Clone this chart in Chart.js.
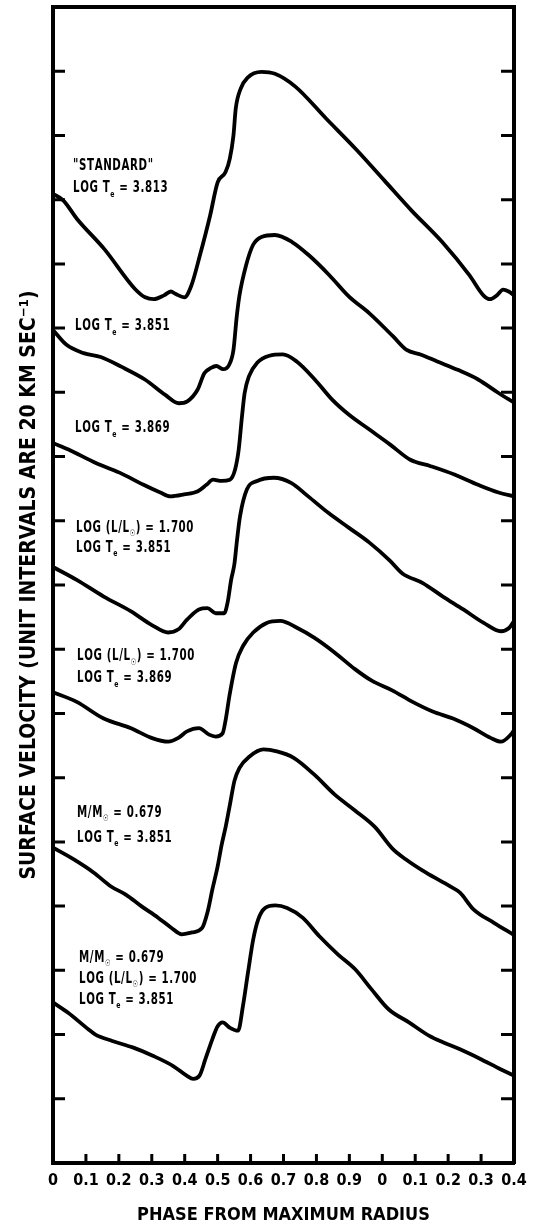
<!DOCTYPE html>
<html>
<head>
<meta charset="utf-8">
<script src="https://cdn.jsdelivr.net/npm/chart.js@4.4.1/dist/chart.umd.min.js"></script>
<style>
  html, body { margin: 0; padding: 0; background: #fff; }
  #wrap { width: 535px; height: 1231px; position: relative; }
</style>
</head>
<body>
<div id="wrap"><canvas id="velocityChart"></canvas></div>
<script>
// Surface velocity curves, phase 0 - 1.4 (one cycle plus 0.4 repeated)
// velocities in unit intervals (1 unit = 20 km/sec), curves offset vertically

const phaseTicks = [0, 0.1, 0.2, 0.3, 0.4, 0.5, 0.6, 0.7, 0.8, 0.9, 1.0, 1.1, 1.2, 1.3, 1.4];
const phaseLabels = ['0', '0.1', '0.2', '0.3', '0.4', '0.5', '0.6', '0.7', '0.8', '0.9', '0', '0.1', '0.2', '0.3', '0.4'];
const velocityTicks = [1, 2, 3, 4, 5, 6, 7, 8, 9, 10, 11, 12, 13, 14, 15, 16, 17];

// "standard", log Te = 3.813
const stdPhase = [0, 0.031, 0.073, 0.156, 0.249, 0.28, 0.306, 0.337, 0.358, 0.373, 0.399, 0.42, 0.446, 0.477, 0.5, 0.524, 0.537, 0.548, 0.555, 0.57, 0.591, 0.633, 0.674, 0.736, 0.83, 0.923, 1.006, 1.089, 1.182, 1.265, 1.307, 1.327, 1.348, 1.367, 1.384, 1.4];
const stdVel = [15.09, 14.99, 14.70, 14.23, 13.61, 13.48, 13.45, 13.51, 13.57, 13.53, 13.48, 13.66, 14.13, 14.75, 15.27, 15.43, 15.64, 16.0, 16.42, 16.73, 16.9, 16.99, 16.96, 16.76, 16.26, 15.77, 15.3, 14.83, 14.34, 13.82, 13.51, 13.45, 13.51, 13.6, 13.57, 13.51];

// log Te = 3.851
const te3851Phase = [0, 0.041, 0.093, 0.145, 0.207, 0.279, 0.341, 0.382, 0.408, 0.439, 0.46, 0.48, 0.496, 0.517, 0.535, 0.548, 0.558, 0.566, 0.586, 0.607, 0.633, 0.674, 0.726, 0.778, 0.84, 0.899, 0.961, 1.033, 1.074, 1.116, 1.167, 1.229, 1.291, 1.353, 1.4];
const te3851Vel = [12.97, 12.74, 12.61, 12.55, 12.4, 12.2, 11.96, 11.83, 11.86, 12.04, 12.3, 12.38, 12.41, 12.36, 12.43, 12.66, 13.18, 13.5, 13.97, 14.29, 14.42, 14.45, 14.34, 14.13, 13.82, 13.49, 13.23, 12.87, 12.66, 12.59, 12.48, 12.35, 12.2, 11.99, 11.84];

// log Te = 3.869
const te3869Phase = [0, 0.047, 0.13, 0.202, 0.275, 0.326, 0.357, 0.398, 0.44, 0.466, 0.486, 0.512, 0.537, 0.553, 0.564, 0.574, 0.582, 0.595, 0.62, 0.657, 0.698, 0.74, 0.795, 0.847, 0.899, 0.961, 1.023, 1.085, 1.147, 1.219, 1.291, 1.353, 1.4];
const te3869Vel = [11.21, 11.11, 10.9, 10.75, 10.56, 10.44, 10.38, 10.41, 10.46, 10.56, 10.64, 10.62, 10.64, 10.8, 11.11, 11.63, 11.99, 12.25, 12.46, 12.57, 12.59, 12.48, 12.2, 11.89, 11.65, 11.42, 11.19, 10.95, 10.85, 10.72, 10.56, 10.44, 10.38];

// log L/Lsun = 1.700, log Te = 3.851
const lum3851Phase = [0, 0.072, 0.154, 0.237, 0.299, 0.35, 0.381, 0.407, 0.443, 0.469, 0.494, 0.52, 0.53, 0.541, 0.551, 0.558, 0.568, 0.589, 0.62, 0.671, 0.723, 0.775, 0.837, 0.899, 0.961, 1.023, 1.061, 1.123, 1.184, 1.246, 1.308, 1.36, 1.385, 1.4];
const lum3851Vel = [9.28, 9.08, 8.82, 8.59, 8.38, 8.26, 8.31, 8.46, 8.62, 8.64, 8.56, 8.56, 8.72, 9.08, 9.33, 9.66, 10.07, 10.49, 10.62, 10.67, 10.59, 10.38, 10.12, 9.89, 9.66, 9.38, 9.18, 9.03, 8.82, 8.62, 8.41, 8.28, 8.33, 8.44];

// log L/Lsun = 1.700, log Te = 3.869
const lum3869Phase = [0, 0.072, 0.154, 0.237, 0.299, 0.35, 0.381, 0.407, 0.443, 0.474, 0.494, 0.515, 0.525, 0.536, 0.556, 0.577, 0.608, 0.649, 0.69, 0.742, 0.793, 0.855, 0.917, 0.968, 1.03, 1.092, 1.153, 1.215, 1.277, 1.329, 1.36, 1.39, 1.4];
const lum3869Vel = [7.33, 7.18, 6.92, 6.77, 6.62, 6.56, 6.62, 6.72, 6.77, 6.67, 6.64, 6.69, 6.92, 7.28, 7.79, 8.05, 8.26, 8.41, 8.44, 8.33, 8.18, 7.95, 7.69, 7.51, 7.36, 7.18, 7.03, 6.92, 6.77, 6.62, 6.56, 6.67, 6.74];

// M/Msun = 0.679, log Te = 3.851
const mass3851Phase = [0, 0.062, 0.124, 0.175, 0.221, 0.268, 0.319, 0.36, 0.391, 0.422, 0.453, 0.469, 0.484, 0.5, 0.512, 0.525, 0.538, 0.551, 0.566, 0.597, 0.639, 0.68, 0.731, 0.793, 0.855, 0.917, 0.978, 1.03, 1.071, 1.133, 1.205, 1.236, 1.277, 1.339, 1.4];
const mass3851Vel = [4.91, 4.73, 4.52, 4.31, 4.18, 4.0, 3.82, 3.66, 3.56, 3.59, 3.66, 3.9, 4.26, 4.62, 4.95, 5.25, 5.6, 5.95, 6.15, 6.33, 6.44, 6.41, 6.31, 6.05, 5.74, 5.49, 5.23, 4.9, 4.73, 4.52, 4.31, 4.21, 3.95, 3.74, 3.55];

// M/Msun = 0.679, log L/Lsun = 1.700, log Te = 3.851
const massLumPhase = [0, 0.046, 0.108, 0.129, 0.18, 0.242, 0.303, 0.365, 0.406, 0.426, 0.445, 0.463, 0.484, 0.5, 0.515, 0.536, 0.562, 0.577, 0.592, 0.608, 0.623, 0.644, 0.675, 0.711, 0.758, 0.809, 0.865, 0.917, 0.968, 1.02, 1.081, 1.143, 1.184, 1.236, 1.298, 1.359, 1.4];
const massLumVel = [2.5, 2.34, 2.08, 2.0, 1.9, 1.8, 1.67, 1.51, 1.36, 1.31, 1.36, 1.62, 1.93, 2.13, 2.19, 2.11, 2.06, 2.45, 2.96, 3.48, 3.79, 3.97, 4.01, 3.97, 3.82, 3.53, 3.25, 3.02, 2.7, 2.39, 2.19, 1.98, 1.88, 1.77, 1.62, 1.46, 1.36];

const curves = [
    [stdPhase, stdVel],
    [te3851Phase, te3851Vel],
    [te3869Phase, te3869Vel],
    [lum3851Phase, lum3851Vel],
    [lum3869Phase, lum3869Vel],
    [mass3851Phase, mass3851Vel],
    [massLumPhase, massLumVel]
];

// curve labels; "_" puts the next character in subscript
const notes = [
    { x: 0.061, y: 15.46, gap: 22, lines: ['"STANDARD"', 'LOG T_e = 3.813'] },
    { x: 0.067, y: 12.97, gap: 22, lines: ['LOG T_e = 3.851'] },
    { x: 0.067, y: 11.38, gap: 22, lines: ['LOG T_e = 3.869'] },
    { x: 0.070, y: 9.83, gap: 20, lines: ['LOG (L/L_\u2609) = 1.700', 'LOG T_e = 3.851'] },
    { x: 0.073, y: 7.83, gap: 22, lines: ['LOG (L/L_\u2609) = 1.700', 'LOG T_e = 3.869'] },
    { x: 0.073, y: 5.39, gap: 25, lines: ['M/M_\u2609 = 0.679', 'LOG T_e = 3.851'] },
    { x: 0.079, y: 3.13, gap: 21, lines: ['M/M_\u2609 = 0.679', 'LOG (L/L_\u2609) = 1.700', 'LOG T_e = 3.851'] }
];

const FONT = '"Liberation Sans Narrow", "DejaVu Sans Condensed", "DejaVu Sans", sans-serif';

// draws one label line squeezed horizontally, subscripts smaller and lower
function drawRich(ctx, str, x0, y0, size, squeeze) {
    ctx.save();
    ctx.translate(x0, y0);
    ctx.scale(squeeze, 1);
    let cx = 0;
    for (let i = 0; i < str.length; i++) {
        let ch = str[i];
        let sub = false;
        if (ch === '_') { sub = true; ch = str[++i]; }
        const s = sub ? Math.round(size * 0.6) : size;
        ctx.font = 'bold ' + s + 'px ' + FONT;
        ctx.fillText(ch, cx, sub ? size * 0.3 : 0);
        cx += ctx.measureText(ch).width + 0.8;
    }
    ctx.restore();
}

// inward tick marks on the frame plus the curve labels
const frameMarks = {
    id: 'frameMarks',
    afterDatasetsDraw(chart) {
        const { ctx, chartArea: a, scales: { x, y } } = chart;
        ctx.save();
        ctx.strokeStyle = '#000';
        ctx.lineWidth = 3;
        ctx.beginPath();
        velocityTicks.forEach(v => {
            const py = y.getPixelForValue(v);
            ctx.moveTo(a.left, py);
            ctx.lineTo(a.left + 12, py);
            ctx.moveTo(a.right, py);
            ctx.lineTo(a.right - 13, py);
        });
        phaseTicks.slice(1, -1).forEach(p => {
            const px = x.getPixelForValue(p);
            ctx.moveTo(px, a.bottom);
            ctx.lineTo(px, a.bottom - 9);
        });
        ctx.stroke();

        ctx.fillStyle = '#000';
        ctx.textBaseline = 'alphabetic';
        notes.forEach(n => {
            const px = x.getPixelForValue(n.x);
            const py = y.getPixelForValue(n.y);
            n.lines.forEach((line, i) => drawRich(ctx, line, px, py + i * n.gap, 15, 0.76));
        });
        ctx.restore();
    }
};

window.addEventListener('load', () => {
    const ctx = document.getElementById('velocityChart').getContext('2d');
    new Chart(ctx, {
        type: 'line',
        data: {
            datasets: curves.map(([ph, vel]) => ({
                data: ph.map((p, i) => ({ x: p, y: vel[i] })),
                borderColor: '#000',
                borderWidth: 3.8,
                pointRadius: 0,
                fill: false,
                cubicInterpolationMode: 'monotone'
            }))
        },
        options: {
            responsive: true,
            maintainAspectRatio: false,
            animation: false,
            layout: { padding: 0 },
            plugins: {
                legend: { display: false },
                tooltip: { enabled: false }
            },
            scales: {
                x: {
                    type: 'linear',
                    position: 'bottom',
                    min: 0,
                    max: 1.4,
                    afterBuildTicks: s => { s.ticks = phaseTicks.map(v => ({ value: v })); },
                    afterFit: s => { s.height = 68; },
                    grid: { display: false, drawTicks: false },
                    border: { display: true, color: '#000', width: 4 },
                    ticks: {
                        autoSkip: false,
                        maxRotation: 0,
                        padding: 8,
                        color: '#000',
                        font: { family: FONT, size: 16, weight: 'bold' },
                        callback: (v, i) => phaseLabels[i]
                    },
                    title: {
                        display: true,
                        text: 'PHASE FROM MAXIMUM RADIUS',
                        color: '#000',
                        font: { family: FONT, size: 18, weight: 'bold' },
                        padding: { top: 0, bottom: 5 }
                    }
                },
                x2: {
                    type: 'linear',
                    position: 'top',
                    min: 0,
                    max: 1.4,
                    afterFit: s => { s.height = 7; },
                    grid: { display: false, drawTicks: false },
                    border: { display: true, color: '#000', width: 4 },
                    ticks: { display: false }
                },
                y: {
                    type: 'linear',
                    position: 'left',
                    min: 0,
                    max: 18,
                    afterFit: s => { s.width = 53; },
                    grid: { display: false, drawTicks: false },
                    border: { display: true, color: '#000', width: 4 },
                    ticks: { display: false },
                    title: {
                        display: true,
                        text: 'SURFACE VELOCITY (UNIT INTERVALS ARE 20 KM SEC\u207B\u00B9)',
                        color: '#000',
                        font: { family: FONT, size: 21, weight: 'bold' },
                        padding: { top: 17, bottom: 0 }
                    }
                },
                y2: {
                    type: 'linear',
                    position: 'right',
                    min: 0,
                    max: 18,
                    afterFit: s => { s.width = 21; },
                    grid: { display: false, drawTicks: false },
                    border: { display: true, color: '#000', width: 4 },
                    ticks: { display: false }
                }
            }
        },
        plugins: [frameMarks]
    });
});
</script>
</body>
</html>
